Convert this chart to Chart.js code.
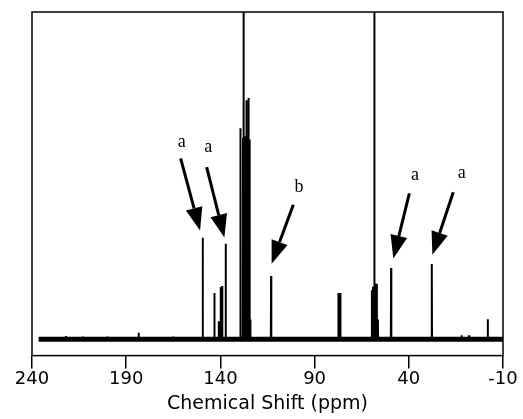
<!DOCTYPE html>
<html>
<head>
<meta charset="utf-8">
<script src="https://cdn.jsdelivr.net/npm/chart.js@4.4.1/dist/chart.umd.min.js"></script>
<style>
  html, body { margin: 0; background: #fff; }
  #wrap { width: 523px; height: 419px; }
</style>
</head>
<body>
<div id="wrap"><canvas id="spectrum"></canvas></div>
<script>
// 13C NMR spectrum, peaks (ppm / relative height)
const peakShift = [222, 213, 200, 183.4, 165, 149.4, 143.2, 140.9, 139.8, 139.1, 137.2,
  129.4, 128.0, 127.6, 127.2, 126.8, 126.2, 125.7, 125.1, 124.6, 124.2,
  113.1, 77.4, 76.9, 76.4, 59.6, 59.0, 58.3, 57.6, 57.0, 56.4,
  49.4, 27.8, 12, 8, -1.9];
const peakHeight = [1.0, 0.8, 0.8, 2.0, 0.8, 31.0, 14.1, 5.5, 16.0, 16.3, 29.2,
  64.5, 61.5, 130, 61.5, 62, 73, 62, 73.7, 61, 6,
  19.3, 14.1, 14.1, 14.1, 15, 16, 130, 17, 16.9, 6,
  21.8, 23.0, 1.2, 1.2, 6.1];

// baseline of the trace
const baseShift = [236.5, -10];
const baseLevel = [0, 0];

const tickValues = [240, 190, 140, 90, 40, -10];

// arrow labels: text, label position, arrow tail and arrow tip
const markText = ["a", "a", "b", "a", "a"];
const markShift = [160.5, 146.4, 98.3, 36.7, 11.9];
const markLevel = [60.2, 58.7, 46.5, 50.0, 50.6];
const tailShift = [161.1, 147.3, 101.3, 39.7, 16.4];
const tailLevel = [55.3, 52.6, 41.1, 44.6, 44.9];
const tipShift = [150.8, 137.9, 112.8, 48.2, 27.5];
const tipLevel = [33.2, 31.1, 23.1, 24.7, 25.8];

// turn each peak into a thin stick on the line
const order = peakShift.map((s, i) => i).sort((a, b) => peakShift[b] - peakShift[a]);
const trace = [];
order.forEach((i) => {
  trace.push({ x: peakShift[i] + 0.12, y: 0 });
  trace.push({ x: peakShift[i], y: peakHeight[i] });
  trace.push({ x: peakShift[i] - 0.12, y: 0 });
});
const baseline = baseShift.map((s, i) => ({ x: s, y: baseLevel[i] }));

// frame round the plot
const framePlugin = {
  id: "frame",
  afterDatasetsDraw(chart) {
    const { ctx, chartArea } = chart;
    ctx.save();
    ctx.strokeStyle = "#000";
    ctx.lineWidth = 1.5;
    ctx.strokeRect(chartArea.left, chartArea.top, chartArea.right - chartArea.left, chartArea.bottom - chartArea.top);
    ctx.restore();
  },
};

// arrows with letters
const arrowPlugin = {
  id: "arrows",
  afterDatasetsDraw(chart) {
    const { ctx } = chart;
    const xs = chart.scales.x;
    const ys = chart.scales.y;
    ctx.save();
    ctx.fillStyle = "#000";
    ctx.strokeStyle = "#000";
    ctx.font = "18px 'Liberation Serif'";
    ctx.textAlign = "center";
    ctx.textBaseline = "middle";
    markText.forEach((t, i) => {
      ctx.fillText(t, xs.getPixelForValue(markShift[i]), ys.getPixelForValue(markLevel[i]));
      const x0 = xs.getPixelForValue(tailShift[i]);
      const y0 = ys.getPixelForValue(tailLevel[i]);
      const x1 = xs.getPixelForValue(tipShift[i]);
      const y1 = ys.getPixelForValue(tipLevel[i]);
      const ang = Math.atan2(y1 - y0, x1 - x0);
      const headLen = 23;
      const headW = 8.5;
      const bx = x1 - headLen * Math.cos(ang);
      const by = y1 - headLen * Math.sin(ang);
      ctx.lineWidth = 3;
      ctx.beginPath();
      ctx.moveTo(x0, y0);
      ctx.lineTo(bx, by);
      ctx.stroke();
      ctx.beginPath();
      ctx.moveTo(x1, y1);
      ctx.lineTo(bx + headW * Math.sin(ang), by - headW * Math.cos(ang));
      ctx.lineTo(bx - headW * Math.sin(ang), by + headW * Math.cos(ang));
      ctx.closePath();
      ctx.fill();
    });
    ctx.restore();
  },
};

new Chart(document.getElementById("spectrum"), {
  type: "line",
  data: {
    datasets: [
      {
        data: baseline,
        borderColor: "#000",
        borderWidth: 5,
        pointRadius: 0,
        tension: 0,
      },
      {
        data: trace,
        borderColor: "#000",
        borderWidth: 2,
        pointRadius: 0,
        tension: 0,
      },
    ],
  },
  options: {
    responsive: true,
    maintainAspectRatio: false,
    animation: false,
    layout: { padding: { left: 32, right: 20, top: 12, bottom: 4 } },
    plugins: {
      legend: { display: false },
      tooltip: { enabled: false },
    },
    scales: {
      x: {
        type: "linear",
        reverse: true,
        min: -10,
        max: 240,
        afterBuildTicks: (scale) => {
          scale.ticks = tickValues.map((v) => ({ value: v }));
        },
        border: { display: false },
        grid: {
          display: true,
          drawOnChartArea: false,
          drawTicks: true,
          tickLength: 13,
          color: "#000",
          lineWidth: 1.5,
        },
        ticks: {
          color: "#000",
          padding: 0,
          maxRotation: 0,
          autoSkip: false,
          font: { family: "'DejaVu Sans'", size: 18 },
        },
        title: {
          display: true,
          text: "Chemical Shift (ppm)",
          color: "#000",
          font: { family: "'DejaVu Sans'", size: 19 },
          padding: { top: 2, bottom: 0 },
        },
      },
      y: {
        display: false,
        min: -5,
        max: 100,
      },
    },
  },
  plugins: [framePlugin, arrowPlugin],
});
</script>
</body>
</html>
